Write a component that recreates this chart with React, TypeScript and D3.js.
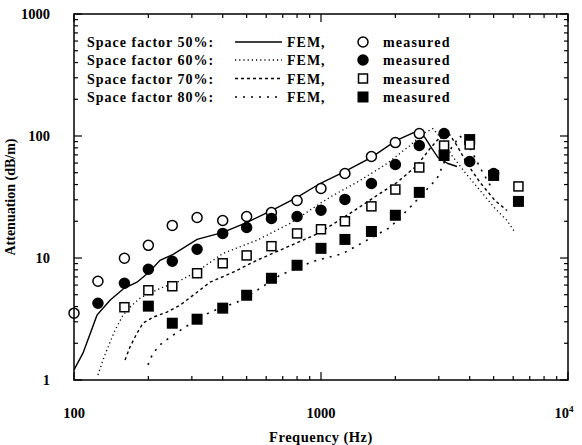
import React from "react";
import * as d3 from "d3";

// ---- data ----
const freqs50 = [100, 125, 160, 200, 250, 315, 400, 500, 630, 800, 1000, 1250, 1600, 2000, 2500];
const meas50 = [3.53, 6.45, 9.95, 12.7, 18.5, 21.5, 20.3, 21.9, 23.6, 29.6, 37.1, 49.3, 67.9, 88.3, 104.6];

const freqs60 = [125, 160, 200, 250, 315, 400, 500, 630, 800, 1000, 1250, 1600, 2000, 2500, 3150, 4000, 5000];
const meas60 = [4.26, 6.21, 8.09, 9.4, 11.8, 15.9, 17.8, 21.1, 21.9, 24.6, 30.2, 40.8, 58.4, 83.5, 104.6, 61.8, 49.3];

const freqs70 = [160, 200, 250, 315, 400, 500, 630, 800, 1000, 1250, 1600, 2000, 2500, 3150, 4000, 6300];
const meas70 = [3.95, 5.44, 5.87, 7.5, 9.05, 10.5, 12.5, 15.9, 17.2, 20.0, 26.5, 36.4, 55.2, 83.5, 85.1, 38.6];

const freqs80 = [200, 250, 315, 400, 500, 630, 800, 1000, 1250, 1600, 2000, 2500, 3150, 4000, 5000, 6300];
const meas80 = [4.03, 2.92, 3.15, 3.88, 4.95, 6.82, 8.72, 12.0, 14.2, 16.5, 22.4, 34.5, 69.2, 93.5, 47.5, 29.1];

const fem50: [number, number][] = [
  [100, 1.21], [108.7, 1.66], [123.9, 3.4], [139.9, 4.51], [159.4, 5.65], [179.9, 6.33],
  [201, 7.64], [223, 9.58], [252, 10.7], [315, 14.2], [401, 16.2], [502, 19.6], [633, 24.6],
  [800, 31.4], [991, 40.8], [1251, 51.2], [1594, 66.6], [2012, 91.7], [2470, 110.7],
  [2636, 97], [2814, 78.9], [2977, 66.6], [3267, 59.5], [3552, 56.2],
];
const fem60: [number, number][] = [
  [125, 1.1], [131, 1.46], [137.3, 1.86], [146.6, 2.56], [157.9, 3.4], [168.5, 3.95], [185, 4.68],
  [206.9, 5.24], [229.3, 5.76], [261.2, 6.33], [294.9, 7.22], [333, 8.39], [401, 10.9], [551, 14.0],
  [749, 19.2], [991, 28.0], [1119, 32.6], [1439, 43.2], [1850, 59.5], [2293, 83.5], [2588, 104.6],
  [2841, 115], [3119, 91.7], [3391, 69.1], [3829, 50.2], [4404, 35.8], [5063, 25.5], [5662, 20.3],
  [6100, 16.2],
];
const fem70: [number, number][] = [
  [160.9, 1.46], [168.5, 1.86], [179.9, 2.42], [190.2, 2.92], [208.8, 3.27], [237.9, 3.6],
  [268.6, 4.1], [314.8, 5.24], [355.3, 6.33], [440.4, 7.64], [550.8, 9.58], [682.3, 11.6],
  [845.6, 14.0], [990.8, 16.2], [1348, 24.1], [1686, 32.6], [2031, 41.6], [2447, 57.3],
  [2763, 78.9], [3119, 104.6], [3237, 110.7], [3552, 83.5], [3900, 59.5], [4404, 41.6],
  [5063, 29.6], [5662, 24.5],
];
const fem80: [number, number][] = [
  [199.3, 1.33], [208.8, 1.66], [227.1, 2.01], [251.7, 2.33], [281.4, 2.71], [355.3, 3.6],
  [457, 4.34], [550.8, 5.44], [682.3, 7.22], [845.6, 8.72], [963.4, 9.58], [1038, 9.94],
  [1228, 10.9], [1536, 14.0], [1903, 17.8], [2293, 26.0], [2949, 44.8], [3300, 75],
  [3653, 100], [4011, 80], [4404, 55], [4970, 36],
];

const legendLabels = ["Space factor 50%:", "Space factor 60%:", "Space factor 70%:", "Space factor 80%:"];
const yTickLabels = [1, 10, 100, 1000];
const xTickLabels = [100, 1000];

const W = 582, H = 445;
const L = 74, R = 568, T = 14, B = 380;
const FONT = "'Liberation Serif', 'Times New Roman', serif";

export default function App() {
  const x = d3.scaleLog().domain([100, 10000]).range([L, R]);
  const y = d3.scaleLog().domain([1, 1000]).range([B, T]);
  const line = d3.line<[number, number]>().x((d) => x(d[0])).y((d) => y(d[1]));

  const xt = x.ticks();
  const yt = y.ticks();
  const isMajor = (v: number) => Math.abs(Math.log10(v) - Math.round(Math.log10(v))) < 1e-9;

  const styles = [
    { dash: undefined as string | undefined, w: 1.4 },
    { dash: "1.2,3", w: 1.3 },
    { dash: "3,3", w: 1.4 },
    { dash: "2,6", w: 1.6 },
  ];
  const fems = [fem50, fem60, fem70, fem80];

  const circle = (cx: number, cy: number, filled: boolean, key: string) => (
    <circle key={key} cx={cx} cy={cy} r={5} fill={filled ? "#000" : "#fff"} stroke="#000" strokeWidth={1.5} />
  );
  const square = (cx: number, cy: number, filled: boolean, key: string) =>
    filled ? (
      <rect key={key} x={cx - 5.5} y={cy - 5.5} width={11} height={11} fill="#000" />
    ) : (
      <rect key={key} x={cx - 4.5} y={cy - 4.5} width={9} height={9} fill="#fff" stroke="#000" strokeWidth={1.5} />
    );

  const legendY = [42, 60, 78.5, 97];

  return (
    <svg width={W} height={H} style={{ position: "absolute", left: 0, top: 0, background: "#fff" }} fontFamily={FONT}>
      <rect x={0} y={0} width={W} height={H} fill="#fff" />
      {fems.map((f, i) => (
        <path key={"f" + i} d={line(f) || ""} fill="none" stroke="#000" strokeWidth={styles[i].w} strokeDasharray={styles[i].dash} />
      ))}
      {freqs50.map((f, i) => circle(x(f), y(meas50[i]), false, "a" + i))}
      {freqs60.map((f, i) => circle(x(f), y(meas60[i]), true, "b" + i))}
      {freqs80.map((f, i) => square(x(f), y(meas80[i]), true, "d" + i))}
      {freqs70.map((f, i) => square(x(f), y(meas70[i]), false, "c" + i))}

      <rect x={L} y={T} width={R - L} height={B - T} fill="none" stroke="#000" strokeWidth={1.5} />
      {xt.map((v, i) => {
        const len = isMajor(v) ? 8 : 4;
        return (
          <g key={"xt" + i}>
            <line x1={x(v)} x2={x(v)} y1={B} y2={B - len} stroke="#000" strokeWidth={1.2} />
            <line x1={x(v)} x2={x(v)} y1={T} y2={T + len} stroke="#000" strokeWidth={1.2} />
          </g>
        );
      })}
      {yt.map((v, i) => {
        const len = isMajor(v) ? 8 : 4;
        return (
          <g key={"yt" + i}>
            <line x1={L} x2={L + len} y1={y(v)} y2={y(v)} stroke="#000" strokeWidth={1.2} />
            <line x1={R} x2={R - len} y1={y(v)} y2={y(v)} stroke="#000" strokeWidth={1.2} />
          </g>
        );
      })}
      {yTickLabels.map((v) => (
        <text key={"yl" + v} x={L - 24} y={y(v)} dy="0.35em" textAnchor="end" fontSize={14.5} fontWeight="bold">
          {v}
        </text>
      ))}
      {xTickLabels.map((v) => (
        <text key={"xl" + v} x={x(v)} y={418} textAnchor="middle" fontSize={14.5} fontWeight="bold">
          {v}
        </text>
      ))}
      <text x={R - 4} y={418} textAnchor="middle" fontSize={14.5} fontWeight="bold">
        10
        <tspan dy={-6} fontSize={9}>4</tspan>
      </text>
      <text x={(L + R) / 2} y={442} textAnchor="middle" fontSize={14.5} fontWeight="bold" letterSpacing={0.5}>
        Frequency (Hz)
      </text>
      <text transform={`translate(15,${(T + B) / 2}) rotate(-90)`} textAnchor="middle" fontSize={14} fontWeight="bold">
        Attenuation (dB/m)
      </text>

      {legendLabels.map((lab, i) => (
        <g key={"lg" + i}>
          <text x={87} y={legendY[i] + 5} fontSize={14} fontWeight="bold" letterSpacing={1}>
            {lab}
          </text>
          <line x1={235} x2={282} y1={legendY[i]} y2={legendY[i]} stroke="#000" strokeWidth={styles[i].w} strokeDasharray={styles[i].dash} />
          <text x={287} y={legendY[i] + 5} fontSize={14} fontWeight="bold" letterSpacing={1}>
            FEM,
          </text>
          {i < 2 ? circle(363, legendY[i], i === 1, "lm" + i) : square(363, legendY[i], i === 3, "lm" + i)}
          <text x={383} y={legendY[i] + 5} fontSize={14} fontWeight="bold" letterSpacing={1.2}>
            measured
          </text>
        </g>
      ))}
    </svg>
  );
}
